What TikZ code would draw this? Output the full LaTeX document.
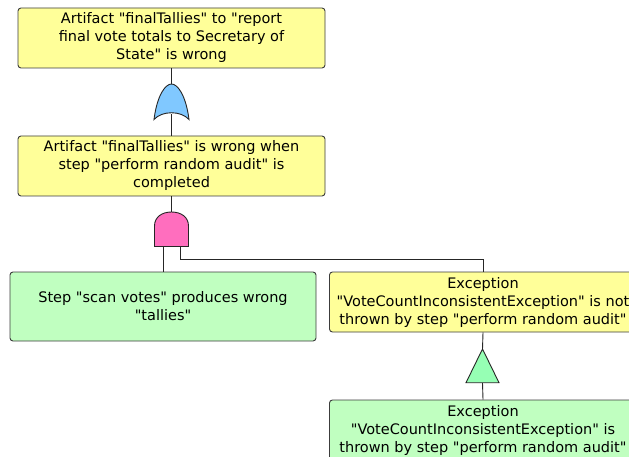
\documentclass[tikz,border=0pt]{standalone}
\usepackage{fontspec}
\newfontfamily\evfont{DejaVu Sans}
\definecolor{evyellow}{RGB}{255,255,153}
\definecolor{evgreen}{RGB}{192,255,192}
\definecolor{orblue}{RGB}{128,200,255}
\definecolor{andpink}{RGB}{255,110,190}
\definecolor{trigreen}{RGB}{150,255,180}
\definecolor{edgegray}{RGB}{60,60,60}
\tikzset{
  event/.style={draw=edgegray, line width=0.9pt, rounded corners=3pt, align=center,
    inner sep=0pt, font=\evfont\fontsize{14.5}{18}\selectfont},
  yev/.style={event, fill=evyellow},
  gev/.style={event, fill=evgreen},
  conn/.style={draw=black!85, line width=0.9pt},
  gate/.style={draw=black!85, line width=0.9pt}
}
\begin{document}
\begin{tikzpicture}[x=1pt,y=-1pt]
\useasboundingbox (0,0) rectangle (629,457);
\clip (0,0) rectangle (629,457);
\fill[white] (0,0) rectangle (629,457);
% events
\node[yev, minimum width=307pt, minimum height=60pt] (b1) at (171.5,38)
  {Artifact "finalTallies" to "report\\final vote totals to Secretary of\\State" is wrong};
\node[yev, minimum width=307pt, minimum height=60pt] (b2) at (171.5,166)
  {Artifact "finalTallies" is wrong when\\step "perform random audit" is\\completed};
\node[gev, minimum width=306pt, minimum height=69pt] (b3) at (163,306.5)
  {Step "scan votes" produces wrong\\"tallies"};
\node[yev, minimum width=307pt, minimum height=60pt] (b4) at (483,302)
  {Exception\\"VoteCountInconsistentException" is not\\thrown by step "perform random audit"};
\node[gev, minimum width=307pt, minimum height=60pt] (b5) at (483,430)
  {Exception\\"VoteCountInconsistentException" is\\thrown by step "perform random audit"};
% OR gate
\coordinate (orT) at (171.5,84);
\coordinate (orB) at (171.5,114);
\draw[gate, fill=orblue] (154,119.5) .. controls (157,96) and (165,84) .. (orT)
  .. controls (178,84) and (186,96) .. (189,119.5)
  .. controls (181,110.5) and (162,110.5) .. (154,119.5) -- cycle;
\draw[conn] (b1.south) -- (orT);
\draw[conn] (orB) -- (b2.north);
% AND gate
\coordinate (andT) at (171.5,212);
\coordinate (andL) at (163,246.5);
\coordinate (andR) at (180,246.5);
\coordinate (bend1) at (180,259);
\coordinate (bend2) at (483,259);
\draw[gate, fill=andpink] (154.5,246.5) -- (154.5,226)
  .. controls (154.5,217) and (162,212) .. (andT)
  .. controls (181,212) and (188.5,217) .. (188.5,226) -- (188.5,246.5) -- cycle;
\draw[conn] (b2.south) -- (andT);
\draw[conn] (andL) -- (b3.north);
\draw[conn] (andR) -- (bend1) -- (bend2) -- (b4.north);
% triangle gate
\coordinate (triT) at (482.5,349);
\coordinate (triB) at (482.5,383);
\draw[gate, fill=trigreen] (triT) -- (499,382.7) -- (466,382.7) -- cycle;
\draw[conn] (b4.south) -- (triT);
\draw[conn] (triB) -- (b5.north);
\end{tikzpicture}
\end{document}
